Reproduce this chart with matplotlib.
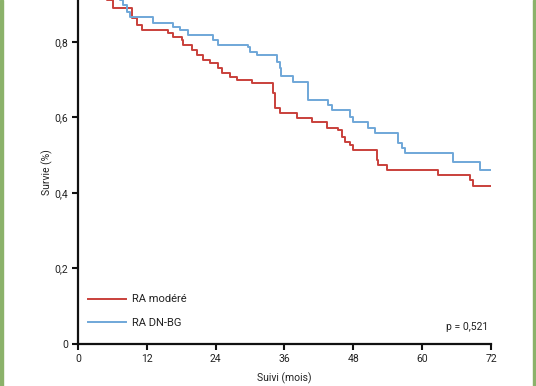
import numpy as np
import matplotlib.pyplot as plt
from matplotlib.ticker import MultipleLocator
from matplotlib.patches import Rectangle

# Kaplan-Meier steps (months, survival)
red_t = [0, 1, 2, 3, 4, 5.1, 6.1, 9.4, 10.3, 11.2, 15.7, 16.6, 18.1, 18.3, 19.9,
         20.7, 21.8, 23.0, 24.4, 25.1, 26.5, 27.7, 30.3, 34.0, 34.3, 35.2, 38.2,
         40.8, 43.4, 45.3, 46.0, 46.5, 47.4, 47.9, 52.1, 52.3, 53.9, 62.8, 68.3,
         68.9, 72.0]
red_s = [1.0, 0.98, 0.96, 0.95, 0.93, 0.911, 0.89, 0.864, 0.845, 0.832, 0.824,
         0.813, 0.805, 0.792, 0.779, 0.766, 0.752, 0.744, 0.731, 0.718, 0.707,
         0.699, 0.691, 0.665, 0.625, 0.612, 0.599, 0.588, 0.572, 0.567, 0.548,
         0.535, 0.527, 0.514, 0.487, 0.474, 0.461, 0.448, 0.434, 0.419, 0.419]

blue_t = [0, 2, 4, 5.5, 6.8, 7.3, 7.8, 8.5, 9.1, 13.1, 16.6, 17.8, 19.2, 23.5,
          24.4, 29.6, 30.0, 31.2, 34.7, 35.2, 35.4, 37.5, 40.1, 43.6, 44.3, 47.4,
          47.9, 50.6, 51.8, 55.8, 56.5, 57.0, 65.4, 70.1, 71.8]
blue_s = [1.0, 0.98, 0.96, 0.94, 0.92, 0.911, 0.898, 0.879, 0.866, 0.850, 0.840,
          0.832, 0.819, 0.805, 0.792, 0.787, 0.774, 0.766, 0.747, 0.731, 0.710,
          0.694, 0.646, 0.633, 0.620, 0.601, 0.588, 0.572, 0.559, 0.532, 0.519,
          0.506, 0.482, 0.461, 0.461]

xticks = [0, 12, 24, 36, 48, 60, 72]
yticks = [0, 0.2, 0.4, 0.6, 0.8]
ytick_labels = ["0", "0,2", "0,4", "0,6", "0,8"]

redc = "#c9403b"
bluec = "#6fa7d8"
txtc = "#222222"

plt.rcParams["font.family"] = ["Roboto", "DejaVu Sans"]

fig = plt.figure(figsize=(5.36, 3.86), dpi=100)
ax = fig.add_axes([0.1455, 0.1088, 0.7705, 0.8912])

ax.step(red_t, red_s, where="post", c=redc, lw=1.4, label="RA modéré")
ax.step(blue_t, blue_s, where="post", c=bluec, lw=1.4, label="RA DN-BG")

ax.set_xlim(0, 72)
ax.set_ylim(0, 0.911)
ax.set_xticks(xticks)
ax.set_yticks(yticks)
ax.set_yticklabels(ytick_labels)

for s in ["top", "right"]:
    ax.spines[s].set_visible(False)
for s in ["left", "bottom"]:
    ax.spines[s].set_linewidth(1.6)
    ax.spines[s].set_color("#111111")
ax.tick_params(direction="out", length=4, width=1.5, labelsize=7.5, colors="#111111",
               labelcolor=txtc, pad=3)

ax.set_ylabel("Survie (%)", fontsize=7.5, color=txtc, labelpad=1)
ax.set_xlabel("Suivi (mois)", fontsize=7.5, color=txtc, labelpad=6)

ax.legend(loc="lower left", bbox_to_anchor=(0.0, 0.018), frameon=False, fontsize=8,
          handlelength=3.4, labelspacing=1.2, handletextpad=0.6, labelcolor=txtc)

ax.text(71.5, 0.045, "p = 0,521", ha="right", va="center", fontsize=7.5, color=txtc)

# green frame edges of the page
green = "#8bb26a"
fig.patches.append(Rectangle((0, 0), 3 / 536, 1, transform=fig.transFigure,
                             color=green, zorder=5))
fig.patches.append(Rectangle((533 / 536, 0), 3 / 536, 1, transform=fig.transFigure,
                             color=green, zorder=5))

fig.savefig("out.png", dpi=100)
